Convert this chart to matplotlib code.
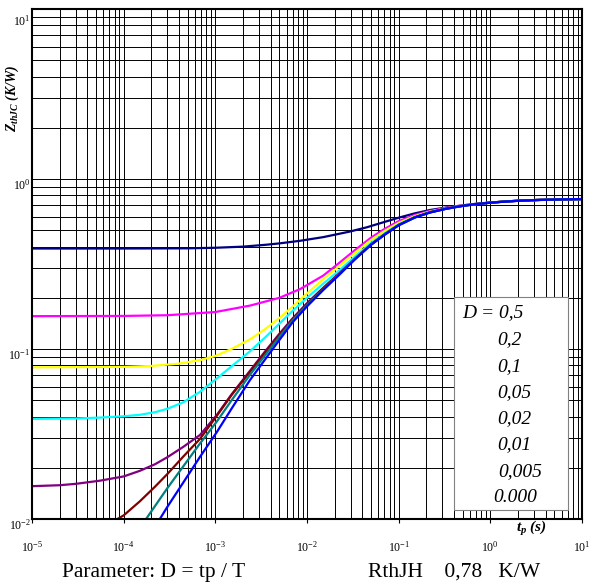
import numpy as np
import matplotlib
matplotlib.use('Agg')
import matplotlib.pyplot as plt
from matplotlib.ticker import FixedLocator, FixedFormatter, LogLocator
from matplotlib.patches import Rectangle
from matplotlib.transforms import ScaledTranslation

plt.rcParams['font.family'] = ['Liberation Serif', 'DejaVu Serif']
plt.rcParams['mathtext.fontset'] = 'custom'
plt.rcParams['mathtext.rm'] = 'Liberation Serif'
plt.rcParams['mathtext.it'] = 'Liberation Serif:italic'
plt.rcParams['mathtext.bf'] = 'Liberation Serif:bold:italic'

# Z_thJC (K/W) vs t_p (s), one curve per duty cycle D
t_05 = [1e-5, 1e-4, 5e-4, 1e-3, 2e-3, 3.5e-3, 5e-3, 8.4e-3, 1.5e-2, 2.9e-2, 4.5e-2, 6.2e-2, 0.1, 0.15, 0.22, 0.33, 0.5, 0.7, 1, 1.5, 2.5, 5, 10]
z_05 = [0.39, 0.39, 0.391, 0.394, 0.4, 0.41, 0.418, 0.433, 0.455, 0.49, 0.52, 0.548, 0.592, 0.628, 0.657, 0.68, 0.7, 0.715, 0.727, 0.738, 0.749, 0.757, 0.762]

t_02 = [1e-5, 1e-4, 3e-4, 1e-3, 2.39e-3, 5e-3, 8.4e-3, 1.5e-2, 2.2e-2, 3.3e-2, 5e-2, 7e-2, 0.1, 0.15, 0.22, 0.33, 0.5, 0.7, 1, 1.5, 2.2, 3.3, 5, 10]
z_02 = [0.156, 0.1565, 0.158, 0.165, 0.18, 0.2, 0.225, 0.27, 0.318, 0.38, 0.452, 0.508, 0.565, 0.614, 0.649, 0.676, 0.699, 0.714, 0.727, 0.738, 0.747, 0.753, 0.757, 0.762]

t_01 = [1e-5, 1e-4, 2e-4, 4e-4, 6.8e-4, 1e-3, 1.5e-3, 2.39e-3, 3.5e-3, 5e-3, 7e-3, 1e-2, 1.5e-2, 2.2e-2, 3.3e-2, 5e-2, 7e-2, 0.1, 0.15, 0.22, 0.33, 0.5, 0.7, 1, 1.5, 2.2, 3.3, 5, 10]
z_01 = [0.078, 0.0785, 0.0795, 0.082, 0.086, 0.091, 0.1, 0.114, 0.131, 0.152, 0.178, 0.212, 0.257, 0.305, 0.366, 0.438, 0.494, 0.552, 0.605, 0.643, 0.672, 0.697, 0.713, 0.726, 0.738, 0.747, 0.753, 0.757, 0.762]

t_005 = [1e-5, 3e-5, 5.5e-5, 1e-4, 1.5e-4, 2.2e-4, 3e-4, 4.44e-4, 6.8e-4, 1e-3, 1.5e-3, 2.39e-3, 3.5e-3, 5e-3, 7e-3, 1e-2, 1.5e-2, 2.2e-2, 3.3e-2, 5e-2, 7e-2, 0.1, 0.15, 0.22, 0.33, 0.5, 0.7, 1, 1.5, 2.2, 3.3, 5, 10]
z_005 = [0.0388, 0.039, 0.0395, 0.0402, 0.041, 0.0425, 0.0445, 0.0485, 0.056, 0.066, 0.079, 0.097, 0.117, 0.141, 0.168, 0.2, 0.242, 0.287, 0.348, 0.421, 0.478, 0.541, 0.598, 0.639, 0.67, 0.696, 0.712, 0.726, 0.738, 0.747, 0.753, 0.757, 0.762]

t_002 = [1e-5, 2e-5, 3e-5, 5.5e-5, 1e-4, 1.5e-4, 2.2e-4, 3e-4, 4.44e-4, 6.8e-4, 1.04e-3, 1.5e-3, 2.39e-3, 3.5e-3, 5e-3, 7e-3, 1e-2, 1.5e-2, 2.2e-2, 3.3e-2, 5e-2, 7e-2, 0.1, 0.15, 0.22, 0.33, 0.5, 0.7, 1, 1.5, 2.2, 3.3, 5, 10]
z_002 = [0.0156, 0.0158, 0.0161, 0.0168, 0.0178, 0.0192, 0.021, 0.0231, 0.0265, 0.0312, 0.041, 0.054, 0.0745, 0.097, 0.123, 0.152, 0.186, 0.229, 0.276, 0.338, 0.413, 0.472, 0.537, 0.596, 0.638, 0.67, 0.696, 0.712, 0.726, 0.738, 0.747, 0.753, 0.757, 0.762]

t_001 = [7e-5, 1e-4, 1.5e-4, 2.2e-4, 3e-4, 4.44e-4, 6.8e-4, 1.04e-3, 1.5e-3, 2.39e-3, 3.5e-3, 5e-3, 7e-3, 1e-2, 1.5e-2, 2.2e-2, 3.3e-2, 5e-2, 7e-2, 0.1, 0.15, 0.22, 0.33, 0.5, 0.7, 1, 1.5, 2.2, 3.3, 5, 10]
z_001 = [0.0094, 0.0105, 0.0127, 0.0155, 0.0184, 0.0232, 0.0296, 0.0405, 0.0535, 0.0735, 0.0955, 0.121, 0.15, 0.184, 0.227, 0.274, 0.337, 0.412, 0.471, 0.536, 0.595, 0.637, 0.669, 0.695, 0.712, 0.726, 0.738, 0.747, 0.753, 0.757, 0.762]

t_0005 = [1.6e-4, 3e-4, 4.44e-4, 6.8e-4, 1.04e-3, 1.5e-3, 2.39e-3, 3.5e-3, 5e-3, 7e-3, 1e-2, 1.5e-2, 2.2e-2, 3.3e-2, 5e-2, 7e-2, 0.1, 0.15, 0.22, 0.33, 0.5, 0.7, 1, 1.5, 2.2, 3.3, 5, 10]
z_0005 = [0.0093, 0.0152, 0.0203, 0.0278, 0.0375, 0.0498, 0.0705, 0.092, 0.118, 0.148, 0.181, 0.224, 0.272, 0.336, 0.411, 0.47, 0.535, 0.594, 0.636, 0.668, 0.695, 0.712, 0.726, 0.738, 0.747, 0.753, 0.757, 0.762]

t_000 = [2.2e-4, 3e-4, 4.44e-4, 6.8e-4, 1.04e-3, 1.5e-3, 2.39e-3, 3.5e-3, 5e-3, 7e-3, 1e-2, 1.5e-2, 2.2e-2, 3.3e-2, 5e-2, 7e-2, 0.1, 0.15, 0.22, 0.33, 0.5, 0.7, 1, 1.5, 2.2, 3.3, 5, 10]
z_000 = [0.009, 0.0118, 0.0163, 0.0232, 0.0325, 0.0445, 0.0657, 0.087, 0.113, 0.144, 0.178, 0.222, 0.27, 0.335, 0.41, 0.469, 0.534, 0.593, 0.635, 0.668, 0.695, 0.712, 0.725, 0.737, 0.746, 0.752, 0.757, 0.762]

curves = [
    (t_05, z_05, '#000080'),
    (t_02, z_02, '#ff00ff'),
    (t_01, z_01, '#ffff00'),
    (t_005, z_005, '#00ffff'),
    (t_002, z_002, '#800080'),
    (t_001, z_001, '#800000'),
    (t_0005, z_0005, '#008080'),
    (t_000, z_000, '#0000ff'),
]

legend_labels = ['D = 0,5', '0,2', '0,1', '0,05', '0,02', '0,01', '0,005', '0.000']

x_ticks = [1e-5, 1e-4, 1e-3, 1e-2, 1e-1, 1e0, 1e1]
x_tick_labels = ['10$^{-5}$', '10$^{-4}$', '10$^{-3}$', '10$^{-2}$', '10$^{-1}$', '10$^{0}$', '10$^{1}$']
y_ticks = [1e-2, 1e-1, 1e0, 1e1]
y_tick_labels = ['10$^{-2}$', '10$^{-1}$', '10$^{0}$', '10$^{1}$']

W, H = 593, 584
fig = plt.figure(figsize=(W / 100, H / 100), dpi=100)
ax = fig.add_axes([32 / W, 1 - 519 / H, 550 / W, 510 / H])
ax.set_xscale('log')
ax.set_yscale('log')
ax.set_xlim(1e-5, 1e1)
ax.set_ylim(1e-2, 1e1)

for t, z, c in curves:
    ax.plot(t, z, color=c, lw=1.6, solid_joinstyle='round')

ax.xaxis.set_major_locator(FixedLocator(x_ticks))
ax.xaxis.set_major_formatter(FixedFormatter(x_tick_labels))
ax.yaxis.set_major_locator(FixedLocator(y_ticks))
ax.yaxis.set_major_formatter(FixedFormatter(y_tick_labels))
ax.xaxis.set_minor_locator(LogLocator(base=10, subs=np.arange(2, 10), numticks=20))
ax.yaxis.set_minor_locator(LogLocator(base=10, subs=np.arange(2, 10), numticks=20))
ax.tick_params(axis='x', which='major', direction='out', length=3, width=0.8, pad=12, labelsize=8.5)
ax.tick_params(axis='y', which='major', length=0, pad=1, labelsize=8.5)
ax.tick_params(which='minor', length=0)
ax.grid(True, which='both', color='black', lw=0.7)
ax.set_axisbelow(True)
for s in ax.spines.values():
    s.set_linewidth(1.5)
    s.set_color('black')

# y tick labels sit a little below their grid lines
for lab, dy in zip(ax.get_yticklabels(), [-5, -5, -5, -11]):
    lab.set_transform(lab.get_transform() + ScaledTranslation(0, dy / 100, fig.dpi_scale_trans))

# legend box
ax.add_patch(Rectangle(((454 - 32) / 550, (519 - 510) / 510), 114 / 550, 213 / 510,
                       transform=ax.transAxes, facecolor='white', edgecolor='#808080',
                       lw=0.8, zorder=5))
ys = [313, 340, 367, 393, 419, 445, 472, 498]
xs = [462, 497, 497, 497, 497, 497, 498, 493]
for lab, x, y in zip(legend_labels, xs, ys):
    fig.text(x / W, 1 - y / H, lab, fontsize=14, style='italic', va='center', ha='left', zorder=10)

fig.text(12 / W, 1 - 98 / H, r'$\mathbf{Z_{thJC}\ (K/W)}$', rotation=90, fontsize=10,
         ha='center', va='center')
fig.text(531 / W, 1 - 528 / H, r'$\mathbf{t_{p}\ (s)}$', fontsize=11, ha='center', va='center')

fig.text(62 / W, 1 - 572 / H, 'Parameter: D = tp / T', fontsize=15.5, ha='left', va='center')
fig.text(368 / W, 1 - 572 / H, 'RthJH    0,78   K/W', fontsize=15.5, ha='left', va='center')

fig.savefig('out.png', dpi=100)
